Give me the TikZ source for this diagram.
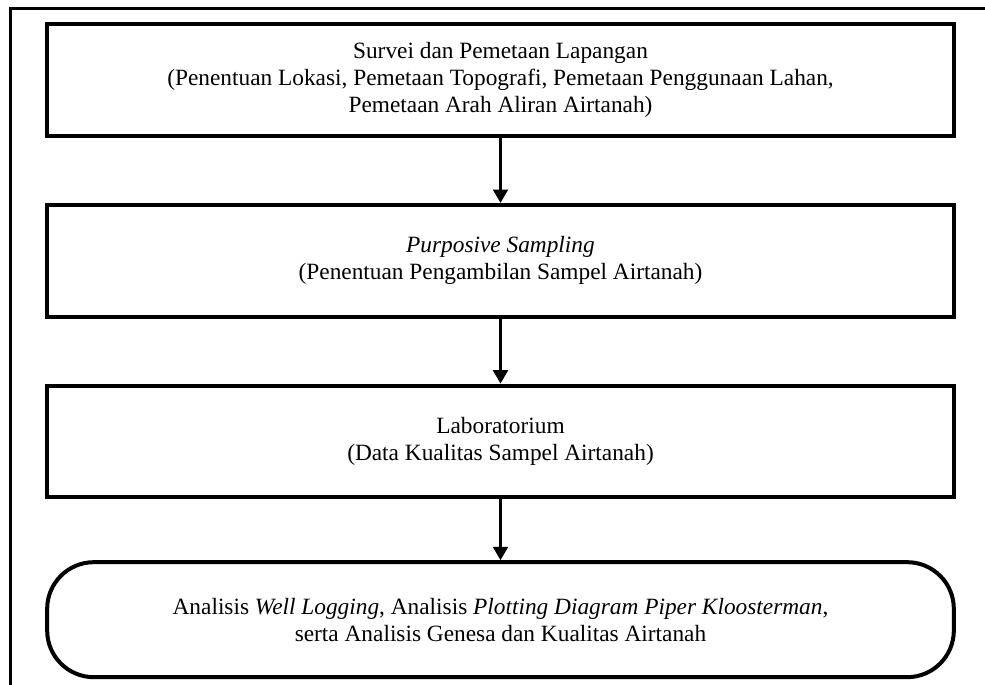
\documentclass[tikz,border=0pt]{standalone}
\usepackage{fontspec}
\setmainfont{Liberation Serif}
\usepackage{tikz}
\usetikzlibrary{arrows.meta,positioning}

\begin{document}
\begin{tikzpicture}[
  x=1pt, y=1pt,
  node distance=39pt,
  box/.style={draw, line width=2.4pt, align=center, font=\fontsize{14}{16.2}\selectfont,
              minimum width=544pt, minimum height=67pt, fill=white, inner sep=0pt},
  endbox/.style={box, rounded corners=28pt, minimum height=69pt},
  arr/.style={-{Triangle[width=9pt,length=8pt]}, line width=1.3pt}
]
\useasboundingbox (0,0) rectangle (591,-410.4);
% outer frame (cut off at right and bottom)
\draw[line width=1.8pt] (6,-420) -- (6,-5.1) -- (600,-5.1);
\node[box] (survei) at (300.3,-48)
      {Survei dan Pemetaan Lapangan\\
       (Penentuan Lokasi, Pemetaan Topografi, Pemetaan Penggunaan Lahan,\\
       Pemetaan Arah Aliran Airtanah)};
\node[box,    below=of survei] (sampling)
      {\textit{Purposive Sampling}\\(Penentuan Pengambilan Sampel Airtanah)};
\node[box,    below=of sampling] (lab)
      {Laboratorium\\(Data Kualitas Sampel Airtanah)};
\node[endbox, below=36.6pt of lab] (analisis)
      {Analisis \textit{Well Logging}, Analisis \textit{Plotting Diagram Piper Kloosterman},\\
       serta Analisis Genesa dan Kualitas Airtanah};
\draw[arr] (survei)   -- (sampling);
\draw[arr] (sampling) -- (lab);
\draw[arr] (lab)      -- (analisis);
\end{tikzpicture}
\end{document}
